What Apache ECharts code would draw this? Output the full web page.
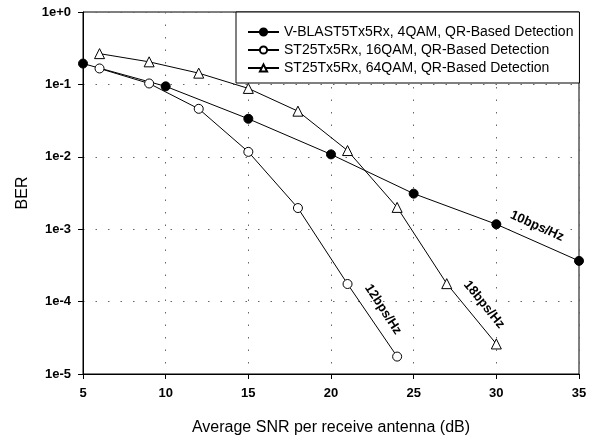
<!DOCTYPE html>
<html><head><meta charset="utf-8">
<script src="https://cdn.jsdelivr.net/npm/echarts@6/dist/echarts.min.js"></script>
<style>html,body{margin:0;padding:0;background:#fff}#c{width:593px;height:441px}</style>
</head><body><div id="c"></div>
<script>
const seriesNames = [
  'V-BLAST5Tx5Rx, 4QAM, QR-Based Detection',
  'ST25Tx5Rx, 16QAM, QR-Based Detection',
  'ST25Tx5Rx, 64QAM, QR-Based Detection'
];
const vblastX = [5, 10, 15, 20, 25, 30, 35];
const vblastY = [0.194, 0.094, 0.0335, 0.0108, 0.0031, 0.00117, 0.000365];
const qam16X = [6, 9, 12, 15, 18, 21, 24];
const qam16Y = [0.166, 0.103, 0.046, 0.0117, 0.00196, 0.000175, 0.0000174];
const qam64X = [6, 9, 12, 15, 18, 21, 24, 27, 30];
const qam64Y = [0.266, 0.205, 0.143, 0.088, 0.0427, 0.0122, 0.0020, 0.000177, 0.000026];
const annoText = ['10bps/Hz', '12bps/Hz', '18bps/Hz'];
const annoX = [32.46, 23.15, 29.26];
const annoY = [0.0011, 0.000078, 0.000091];
const annoAngle = [-24, -57, -51];

const zip = (xs, ys) => xs.map((x, i) => [x, ys[i]]);
const FONT = 'Liberation Sans, Arial, sans-serif';
const chart = echarts.init(document.getElementById('c'), null, {renderer: 'canvas'});
const grid = {left: 83, right: 14, top: 12, bottom: 64, show: true, borderColor: '#000', borderWidth: 1, backgroundColor: 'transparent'};
const common = {type: 'line', smooth: false, silent: true, animation: false,
  lineStyle: {color: '#000', width: 1}, z: 2};
chart.setOption({
  animation: false,
  backgroundColor: '#fff',
  grid: grid,
  legend: {
    data: seriesNames, left: 236, top: 12, orient: 'vertical',
    backgroundColor: '#fff', borderColor: '#000', borderWidth: 1,
    padding: [12, 6, 7, 11], itemGap: 2, itemWidth: 31, itemHeight: 9,
    textStyle: {fontFamily: FONT, fontSize: 14, color: '#000', lineHeight: 16},
    z: 10
  },
  xAxis: {
    type: 'value', min: 5, max: 35, interval: 5,
    name: 'Average SNR per receive antenna (dB)', nameLocation: 'middle', nameGap: 46,
    nameTextStyle: {fontFamily: FONT, fontSize: 16, color: '#000'},
    axisLine: {lineStyle: {color: '#000', width: 1}},
    axisTick: {show: true, inside: false, length: 5, lineStyle: {color: '#000'}},
    axisLabel: {fontFamily: FONT, fontSize: 13, fontWeight: 'bold', color: '#000', margin: 13},
    splitLine: {show: true, lineStyle: {color: '#666', type: [1.5, 11], width: 1}}
  },
  yAxis: {
    type: 'log', logBase: 10, min: 1e-5, max: 1,
    name: 'BER', nameLocation: 'middle', nameGap: 52,
    nameTextStyle: {fontFamily: FONT, fontSize: 16, color: '#000'},
    axisLine: {show: true, lineStyle: {color: '#000', width: 1}},
    axisTick: {show: true, inside: false, length: 5, lineStyle: {color: '#000'}},
    axisLabel: {fontFamily: FONT, fontSize: 13, fontWeight: 'bold', color: '#000', margin: 12,
      formatter: v => { const e = Math.round(Math.log10(v)); return '1e' + (e >= 0 ? '+' + e : e); }},
    splitLine: {show: true, lineStyle: {color: '#666', type: [1.5, 11], width: 1}},
    minorTick: {show: false}
  },
  series: [
    Object.assign({}, common, {name: seriesNames[0], data: zip(vblastX, vblastY), symbol: 'circle', symbolSize: 9,
      itemStyle: {color: '#000', borderColor: '#000', borderWidth: 1}}),
    Object.assign({}, common, {name: seriesNames[1], data: zip(qam16X, qam16Y), symbol: 'circle', symbolSize: 9,
      itemStyle: {color: '#fff', borderColor: '#000', borderWidth: 1}}),
    Object.assign({}, common, {name: seriesNames[2], data: zip(qam64X, qam64Y), symbol: 'triangle', symbolSize: 10,
      itemStyle: {color: '#fff', borderColor: '#000', borderWidth: 1}})
  ]
});
const g = annoText.map((t, i) => {
  const p = chart.convertToPixel({gridIndex: 0}, [annoX[i], annoY[i]]);
  return {type: 'text', x: p[0], y: p[1], rotation: annoAngle[i] * Math.PI / 180, z: 5,
    style: {text: t, fill: '#000', font: 'bold 13px ' + FONT, align: 'center', verticalAlign: 'middle'}};
});
chart.setOption({graphic: g});
</script></body></html>
